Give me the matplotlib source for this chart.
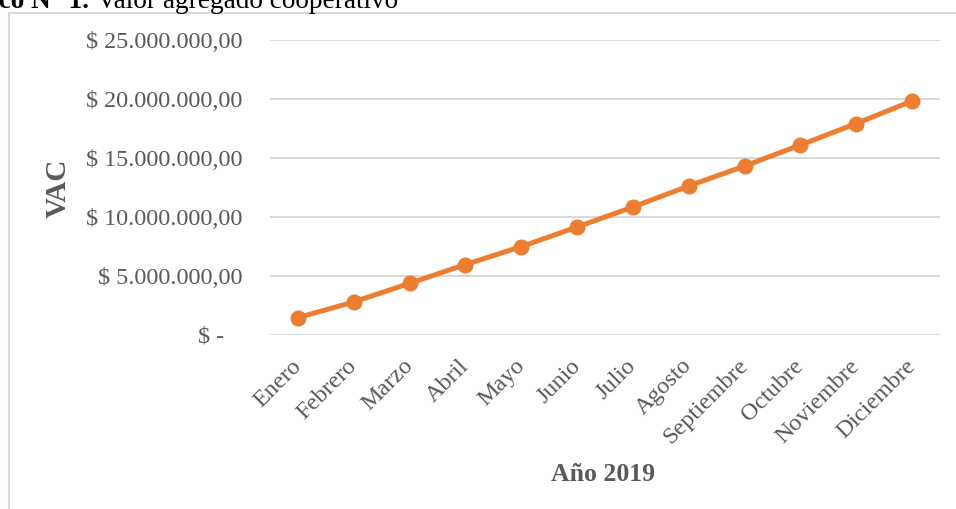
import matplotlib.pyplot as plt
from matplotlib.patches import Rectangle
from matplotlib.ticker import FuncFormatter

plt.rcParams['font.family'] = ['Liberation Serif', 'DejaVu Serif']

meses = ["Enero", "Febrero", "Marzo", "Abril", "Mayo", "Junio", "Julio",
         "Agosto", "Septiembre", "Octubre", "Noviembre", "Diciembre"]
vac = [1470000, 2800000, 4380000, 5970000, 7490000, 9150000, 10850000,
       12630000, 14320000, 16100000, 17920000, 19830000]
yticks = [0, 5000000, 10000000, 15000000, 20000000, 25000000]

gris = "#595959"
naranja = "#ED7D31"

W, H = 956, 509
fig = plt.figure(figsize=(W / 100, H / 100), dpi=100)

# marco del grafico (cortado a la derecha y abajo)
fig.patches.append(Rectangle((9 / W, -0.1), 1.2, 1.1 - 13 / H, transform=fig.transFigure,
                             fill=False, edgecolor="#D9D9D9", linewidth=1.5))

ax = fig.add_axes([270 / W, 1 - 335 / H, (940 - 270) / W, (335 - 40) / H])

x = list(range(len(meses)))
ax.plot(x, vac, color=naranja, linewidth=3.6, marker="o", markersize=10.5,
        solid_capstyle="round", zorder=3)

ax.set_xlim(-0.5, len(meses) - 0.5)
ax.set_ylim(0, 25000000)
ax.set_yticks(yticks)


def fmt(v, pos):
    if v == 0:
        return "$ -   "
    s = f"{v:,.2f}".replace(",", "X").replace(".", ",").replace("X", ".")
    return "$ " + s


ax.yaxis.set_major_formatter(FuncFormatter(fmt))
ax.grid(axis="y", color="#D9D9D9", linewidth=1.4)
ax.set_axisbelow(True)
for s in ax.spines.values():
    s.set_visible(False)
ax.tick_params(axis="both", length=0, colors=gris, labelsize=17.4)
ax.tick_params(axis="y", pad=20)

ax.set_xticks(x)
ax.set_xticklabels(meses, rotation=45, ha="right", va="center", rotation_mode="anchor")
ax.tick_params(axis="x", pad=20)

fig.text(58 / W, 1 - 188 / H, "VAC", rotation=90, ha="center", va="center",
         fontsize=21, fontweight="bold", color=gris)
fig.text(603 / W, 1 - 481 / H, "Año 2019", ha="center", va="baseline",
         fontsize=18.5, fontweight="bold", color=gris)

# titulo cortado en el borde superior
fig.text(89 / W, 1 - 8 / H, "Gráfico N° 1.", ha="right", va="baseline",
         fontsize=19.6, fontweight="bold", color="black")
fig.text(97 / W, 1 - 8 / H, "Valor agregado cooperativo", ha="left", va="baseline",
         fontsize=19.6, color="black")

fig.savefig("out.png", dpi=100)
